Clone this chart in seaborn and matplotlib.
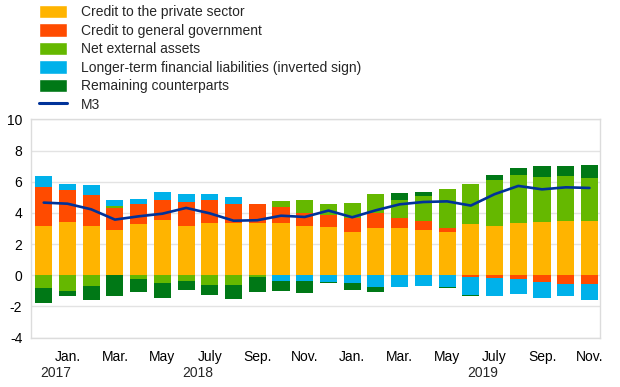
import numpy as np
import pandas as pd
import seaborn as sns
import matplotlib.pyplot as plt
from matplotlib.patches import Patch
from matplotlib.lines import Line2D

# Annual growth rates / contributions (percentage points), one value per bar
periods = list(range(24))
tick_labels = ["Jan.", "Mar.", "May", "July", "Sep.", "Nov.",
               "Jan.", "Mar.", "May", "July", "Sep.", "Nov."]
years = ["2017", "2018", "2019"]

private_sector = [3.14, 3.42, 3.16, 2.88, 3.31, 3.55, 3.14, 3.35, 3.35, 3.35, 3.35, 3.18,
                  3.10, 2.78, 3.06, 3.01, 2.91, 2.78, 3.27, 3.16, 3.35, 3.44, 3.46, 3.48]
general_gov = [2.52, 2.07, 1.97, 1.46, 1.26, 1.30, 1.56, 1.46, 1.24, 1.20, 1.03, 0.82,
               0.79, 0.90, 0.94, 0.69, 0.55, 0.23, -0.10, -0.17, -0.26, -0.43, -0.53, -0.53]
net_external = [-0.81, -1.00, -0.68, 0.10, -0.24, -0.51, -0.36, -0.62, -0.62, -0.08, 0.41, 0.85,
                0.70, 0.96, 1.24, 1.11, 1.63, 2.50, 2.56, 2.95, 3.08, 2.86, 2.91, 2.76]
longer_term = [0.69, 0.39, 0.66, 0.41, 0.30, 0.51, 0.54, 0.38, 0.43, 0.00, -0.36, -0.34,
               -0.43, -0.47, -0.77, -0.73, -0.66, -0.77, -1.14, -1.15, -0.94, -1.04, -0.82, -1.03]
remaining = [-0.94, -0.30, -0.88, -1.32, -0.83, -0.92, -0.60, -0.62, -0.92, -0.99, -0.64, -0.81,
             -0.06, -0.45, -0.32, 0.47, 0.25, -0.06, -0.11, 0.30, 0.47, 0.69, 0.62, 0.85]
m3 = [4.66, 4.59, 4.23, 3.57, 3.78, 3.95, 4.32, 3.97, 3.50, 3.53, 3.82, 3.74,
      4.15, 3.72, 4.17, 4.55, 4.70, 4.74, 4.47, 5.20, 5.73, 5.51, 5.64, 5.60]

series = {
    "Credit to the private sector": (private_sector, "#FFB400"),
    "Credit to general government": (general_gov, "#FF4B00"),
    "Net external assets": (net_external, "#65B800"),
    "Longer-term financial liabilities (inverted sign)": (longer_term, "#00B1EA"),
    "Remaining counterparts": (remaining, "#007816"),
}

sns.set_style("white")
plt.rcParams["font.family"] = ["Liberation Sans", "DejaVu Sans"]
plt.rcParams["font.size"] = 10
plt.rcParams["axes.unicode_minus"] = False


def main():
    fig = plt.figure(figsize=(6.2, 3.87), dpi=100)
    ax = fig.add_axes([0.0495, 0.1274, 0.9185, 0.5643])

    pos_base = np.zeros(len(periods))
    neg_base = np.zeros(len(periods))
    handles = []
    for name, (vals, color) in series.items():
        vals = np.array(vals)
        bottom = np.where(vals >= 0, pos_base, neg_base)
        df = pd.DataFrame({"period": periods, "value": vals})
        sns.barplot(data=df, x="period", y="value", bottom=bottom, color=color,
                    width=0.72, saturation=1, linewidth=0, ax=ax)
        pos_base += np.clip(vals, 0, None)
        neg_base += np.clip(vals, None, 0)
        handles.append(Patch(facecolor=color, label=name))

    sns.lineplot(x=periods, y=m3, color="#003299", linewidth=1.9, ax=ax)
    handles.append(Line2D([], [], color="#003299", linewidth=2.2, label="M3"))

    ax.set_ylim(-4, 10)
    ax.set_yticks(range(-4, 11, 2))
    ax.set_xlim(-0.55, 23.45)
    ax.set_xticks(range(1, 24, 2))
    ax.set_xticklabels(tick_labels)
    ax.set_xlabel("")
    ax.set_ylabel("")
    ax.tick_params(axis="both", length=0, labelsize=10, colors="#000000")
    ax.tick_params(axis="x", pad=9)
    ax.tick_params(axis="y", pad=6)
    ax.grid(axis="y", color="#e3e3e3", linewidth=1)
    ax.set_axisbelow(True)
    for sp in ax.spines.values():
        sp.set_color("#dcdcdc")
        sp.set_linewidth(1)

    for xpos, yr in zip([0.5, 6.5, 18.5], years):
        ax.text(xpos, -0.128, yr, transform=ax.get_xaxis_transform(),
                ha="center", va="top", fontsize=10)

    fig.legend(handles=handles, loc="upper left", bbox_to_anchor=(39 / 620, 1 - 5 / 387),
               frameon=False, fontsize=10, handlelength=2.0, handleheight=1.08,
               labelspacing=0.3, handletextpad=1.0, borderpad=0, borderaxespad=0)

    fig.savefig("out.png", dpi=100)


if __name__ == "__main__":
    main()
